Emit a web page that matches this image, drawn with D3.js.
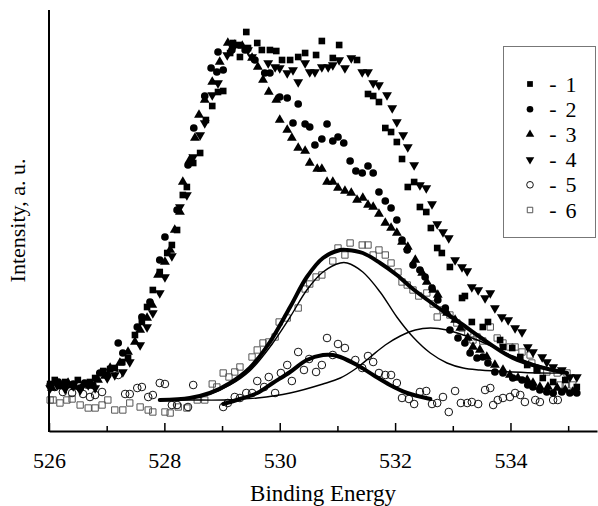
<!DOCTYPE html>
<html>
<head>
<meta charset="utf-8">
<script src="https://cdn.jsdelivr.net/npm/d3@7"></script>
<style>
  html, body { margin: 0; padding: 0; background: #fff; }
  svg { display: block; }
  svg text { font-family: 'Liberation Serif', 'Times New Roman', Times, 'DejaVu Serif', serif !important; fill: #000; }
</style>
</head>
<body>
<div id="chart"></div>
<script>
// Binding energy (eV) / intensity (a.u.) pairs
const series1 = [[526.02,47],[526.10,51],[526.19,45],[526.28,49],[526.40,46],[526.50,51],[526.62,47],[526.71,49],[526.80,53],[526.94,60],[527.06,62],[527.14,63],[527.27,69],[527.37,73],[527.49,96],[527.61,109],[527.70,124],[527.80,141],[527.92,159],[528.05,178],[528.13,186],[528.22,201],[528.32,236],[528.39,244],[528.50,268],[528.62,278],[528.72,311],[528.83,325],[528.93,339],[529.02,340],[529.14,378],[529.19,388],[529.28,386],[529.31,374],[529.42,399],[529.45,383],[529.61,388],[529.69,381],[529.83,381],[529.94,380],[530.04,371],[530.18,371],[530.32,374],[530.44,378],[530.63,376],[530.73,390],[530.92,373],[531.03,386],[531.34,371],[531.53,337],[531.62,335],[531.72,329],[531.83,303],[531.93,299],[532.03,289],[532.12,272],[532.22,244],[532.33,249],[532.43,224],[532.54,219],[532.62,203],[532.73,183],[532.81,178],[532.95,164],[533.16,133],[533.21,135],[533.33,109],[533.52,104],[533.61,109],[533.82,91],[533.87,84],[534.03,83],[534.17,74],[534.29,66],[534.46,61],[534.56,53],[534.74,49],[534.95,51],[535.15,44]];

const series2 = [[526.02,46],[526.16,49],[526.28,45],[526.42,47],[526.54,43],[526.62,48],[526.76,46],[526.88,58],[527.01,56],[527.20,88],[527.28,78],[527.53,104],[527.61,114],[527.75,129],[527.92,171],[528.01,194],[528.22,221],[528.41,266],[528.51,303],[528.70,335],[528.81,363],[528.91,359],[528.93,379],[529.02,361],[529.17,381],[529.40,381],[529.57,371],[529.74,358],[529.83,358],[530.00,334],[530.13,333],[530.23,308],[530.32,327],[530.44,307],[530.52,304],[530.61,286],[530.73,292],[530.82,307],[530.92,290],[531.01,294],[531.11,288],[531.22,270],[531.32,260],[531.43,258],[531.53,265],[531.62,258],[531.72,239],[531.83,230],[531.93,223],[532.03,211],[532.12,191],[532.21,181],[532.31,166],[532.43,161],[532.52,154],[532.64,143],[532.74,131],[532.87,123],[532.95,101],[533.09,93],[533.21,88],[533.30,78],[533.42,73],[533.52,74],[533.61,68],[533.73,59],[533.87,58],[534.04,53],[534.20,51],[534.30,46],[534.39,44],[534.51,41],[534.63,39],[534.74,38],[534.89,39],[535.03,38],[535.15,38]];

const series3 = [[526.05,43],[526.19,47],[526.33,48],[526.45,44],[526.59,46],[526.71,45],[526.85,51],[526.97,55],[527.06,63],[527.23,68],[527.37,79],[527.49,89],[527.58,101],[527.70,113],[527.79,126],[527.89,156],[528.01,169],[528.10,181],[528.18,201],[528.27,219],[528.32,249],[528.44,271],[528.53,293],[528.60,316],[528.70,331],[528.83,349],[528.96,369],[529.10,388],[529.22,386],[529.35,385],[529.52,373],[529.62,364],[529.71,351],[529.81,339],[529.94,331],[530.00,311],[530.13,301],[530.21,293],[530.32,283],[530.44,280],[530.52,268],[530.65,262],[530.73,262],[530.82,249],[530.92,249],[531.01,243],[531.13,240],[531.24,238],[531.34,231],[531.44,233],[531.53,226],[531.62,224],[531.72,217],[531.83,208],[531.93,203],[532.03,198],[532.12,189],[532.22,184],[532.35,171],[532.47,158],[532.55,149],[532.66,141],[532.74,136],[532.90,118],[533.04,111],[533.13,103],[533.26,93],[533.35,84],[533.47,81],[533.59,74],[533.73,66],[533.87,61],[533.99,56],[534.13,53],[534.29,51],[534.39,48],[534.51,44],[534.65,44],[534.81,43],[534.95,41],[535.08,39]];

const series4 = [[526.02,43],[526.14,46],[526.28,42],[526.42,45],[526.54,41],[526.68,46],[526.80,43],[527.01,53],[527.14,56],[527.28,59],[527.40,69],[527.58,86],[527.70,104],[527.80,118],[527.92,138],[528.01,154],[528.13,175],[528.27,224],[528.39,236],[528.50,274],[528.62,296],[528.70,308],[528.83,336],[528.93,348],[529.09,376],[529.19,383],[529.45,381],[529.52,374],[529.80,368],[529.92,364],[530.00,363],[530.13,358],[530.23,361],[530.32,349],[530.44,368],[530.52,359],[530.61,359],[530.73,364],[530.84,364],[530.92,366],[531.03,371],[531.13,363],[531.24,373],[531.43,359],[531.53,359],[531.62,348],[531.72,346],[531.86,336],[531.95,323],[532.03,309],[532.14,296],[532.22,284],[532.33,266],[532.43,246],[532.54,243],[532.64,227],[532.73,207],[532.83,199],[532.93,193],[533.04,171],[533.16,164],[533.25,160],[533.33,144],[533.44,141],[533.56,133],[533.65,138],[533.73,123],[533.85,114],[533.96,111],[534.08,103],[534.20,99],[534.30,84],[534.39,79],[534.55,74],[534.63,69],[534.74,64],[534.89,61],[535.03,54],[535.15,54]];

const series5 = [[526.10,44],[526.24,39],[526.40,38],[526.59,37],[526.71,34],[526.80,36],[526.92,39],[527.20,56],[527.32,37],[527.40,37],[527.53,43],[527.61,44],[527.72,34],[527.80,36],[527.92,48],[528.01,47],[528.13,26],[528.22,26],[528.41,24],[528.50,46],[529.02,24],[529.10,28],[529.22,34],[529.31,33],[529.42,38],[529.52,38],[529.61,50],[529.73,44],[529.81,54],[529.92,38],[530.02,58],[530.13,66],[530.21,50],[530.32,79],[530.42,61],[530.51,72],[530.63,59],[530.73,66],[530.82,93],[530.92,76],[531.01,87],[531.13,83],[531.31,71],[531.43,63],[531.53,75],[531.62,69],[531.72,58],[531.83,56],[531.93,56],[532.03,48],[532.12,33],[532.24,32],[532.33,27],[532.43,39],[532.54,40],[532.64,27],[532.73,28],[532.83,34],[532.93,19],[533.04,40],[533.14,28],[533.25,28],[533.33,29],[533.44,27],[533.56,41],[533.65,43],[533.70,26],[533.78,31],[533.87,33],[533.99,34],[534.08,38],[534.17,36],[534.25,29],[534.43,31],[534.51,29],[534.74,31],[534.82,31]];

const series6 = [[526.02,31],[526.07,31],[526.19,28],[526.31,31],[526.40,32],[526.54,26],[526.68,23],[526.80,23],[526.92,26],[527.02,31],[527.14,21],[527.28,21],[527.40,28],[527.58,24],[527.72,21],[527.80,19],[528.01,19],[528.10,18],[528.24,24],[528.39,23],[528.57,31],[528.70,31],[528.83,47],[528.91,44],[529.02,58],[529.12,54],[529.22,59],[529.31,64],[529.52,74],[529.61,81],[529.71,88],[529.81,89],[529.92,94],[529.99,109],[530.13,113],[530.32,123],[530.44,142],[530.52,147],[530.63,154],[530.73,156],[530.92,170],[531.01,183],[531.13,176],[531.22,188],[531.43,186],[531.53,186],[531.62,176],[531.72,181],[531.83,176],[531.93,168],[532.05,159],[532.12,149],[532.21,146],[532.31,141],[532.41,135],[532.55,138],[532.66,127],[532.73,114],[532.83,121],[532.95,116],[533.07,108],[533.16,103],[533.26,99],[533.35,91],[533.42,94],[533.52,90],[533.65,104],[533.77,93],[533.87,88],[533.99,84],[534.08,84],[534.20,79],[534.34,76],[534.37,68],[534.46,61],[534.63,59],[534.81,58],[534.86,46],[534.95,46],[534.98,58],[535.08,46]];

// fitted curves
const fit6Total = [[527.92,31],[528.44,33],[528.79,38],[529.14,48],[529.48,63],[529.83,89],[530.18,124],[530.47,154],[530.75,173],[531.05,181],[531.17,181],[531.44,178],[531.74,168],[532.03,156],[532.31,142],[532.61,129],[532.90,117],[533.18,106],[533.47,94],[534.04,73],[534.51,64],[534.98,58]];
const fit6PeakA = [[527.92,31],[528.44,33],[528.79,37],[529.14,46],[529.48,60],[529.83,84],[530.18,114],[530.47,141],[530.75,159],[531.05,168],[531.17,168],[531.44,159],[531.74,139],[532.03,114],[532.31,94],[532.61,78],[532.90,68],[533.18,63],[533.47,61],[534.04,59],[534.51,58],[534.98,58]];
const fit6PeakB = [[527.92,31],[528.44,31],[529.02,31],[529.61,33],[530.18,38],[530.75,47],[531.05,53],[531.31,62],[531.57,74],[531.83,86],[532.09,95],[532.35,101],[532.61,103],[532.90,101],[533.18,96],[533.47,90],[534.04,75],[534.51,65],[534.98,58]];
const fit5Total = [[529.02,27],[529.31,32],[529.61,38],[529.88,48],[530.18,59],[530.47,71],[530.75,76],[530.92,76],[531.05,74],[531.34,66],[531.62,56],[531.91,46],[532.21,38],[532.61,32]];

const xMajorTicks = [526, 528, 530, 532, 534];
const xMinorTicks = [527, 529, 531, 533, 535];
const legendLabels = ['1', '2', '3', '4', '5', '6'];

(function () {
  const W = 598, H = 506;
  const margin = { left: 49, right: 1, top: 10, bottom: 75 };
  const FONT = "'Liberation Serif', 'Times New Roman', Times, 'DejaVu Serif', serif";

  const svg = d3.select('#chart').append('svg')
    .attr('width', W)
    .attr('height', H)
    .attr('font-family', FONT);

  const x = d3.scaleLinear().domain([526, 535.5]).range([margin.left, W - margin.right]);
  const y = d3.scaleLinear().domain([0, 421]).range([H - margin.bottom, margin.top]);

  // marker styles per series
  const sym = d3.symbol();
  const styles = [
    { type: d3.symbolSquare, size: 44, fill: '#000', stroke: 'none', rot: 0 },
    { type: d3.symbolCircle, size: 46, fill: '#000', stroke: 'none', rot: 0 },
    { type: d3.symbolTriangle, size: 42, fill: '#000', stroke: 'none', rot: 0 },
    { type: d3.symbolTriangle, size: 42, fill: '#000', stroke: 'none', rot: 180 },
    { type: d3.symbolCircle, size: 46, fill: 'none', stroke: '#111', rot: 0 },
    { type: d3.symbolSquare, size: 40, fill: 'none', stroke: '#555', rot: 0 }
  ];
  const allSeries = [series1, series2, series3, series4, series5, series6];

  // draw open symbols first so the filled ones sit on top
  const order = [5, 4, 0, 1, 2, 3];
  order.forEach(i => {
    const st = styles[i];
    svg.append('g').selectAll('path')
      .data(allSeries[i])
      .join('path')
      .attr('d', sym.type(st.type).size(st.size)())
      .attr('transform', d => `translate(${x(d[0])},${y(d[1])}) rotate(${st.rot})`)
      .attr('fill', st.fill)
      .attr('stroke', st.stroke)
      .attr('stroke-width', 1);
  });

  // fit curves
  const line = d3.line().x(d => x(d[0])).y(d => y(d[1])).curve(d3.curveCatmullRom.alpha(0.5));
  [[fit6PeakA, 1.4], [fit6PeakB, 1.4], [fit6Total, 4], [fit5Total, 4]].forEach(([data, w]) => {
    svg.append('path')
      .datum(data)
      .attr('d', line)
      .attr('fill', 'none')
      .attr('stroke', '#000')
      .attr('stroke-width', w)
      .attr('stroke-linecap', 'round');
  });

  // axes
  const xAxisY = H - margin.bottom;
  const major = d3.axisBottom(x).tickValues(xMajorTicks).tickFormat(d3.format('d'))
    .tickSizeInner(-8).tickSizeOuter(0).tickPadding(21);
  const minor = d3.axisBottom(x).tickValues(xMinorTicks).tickFormat('')
    .tickSizeInner(-5).tickSizeOuter(0);

  const gx = svg.append('g').attr('transform', `translate(0,${xAxisY})`).call(major)
    .attr('font-family', FONT).attr('font-size', 22);
  svg.append('g').attr('transform', `translate(0,${xAxisY})`).call(minor).select('.domain').remove();
  gx.select('.domain').attr('stroke-width', 2);
  svg.selectAll('.tick line').attr('stroke-width', 1.5);

  svg.append('line')
    .attr('x1', margin.left).attr('x2', margin.left)
    .attr('y1', margin.top).attr('y2', xAxisY + 1)
    .attr('stroke', '#000').attr('stroke-width', 2);

  // titles
  svg.append('text')
    .attr('x', (margin.left + W - margin.right) / 2)
    .attr('y', 501)
    .attr('text-anchor', 'middle')
    .attr('font-size', 23)
    .text('Binding Energy');

  svg.append('text')
    .attr('transform', `translate(25,${(margin.top + xAxisY) / 2}) rotate(-90)`)
    .attr('text-anchor', 'middle')
    .attr('font-size', 22)
    .text('Intensity, a. u.');

  // legend
  const lg = svg.append('g');
  lg.append('rect')
    .attr('x', 503.5).attr('y', 46.5)
    .attr('width', 92).attr('height', 191)
    .attr('fill', '#fff').attr('stroke', '#777').attr('stroke-width', 1);

  legendLabels.forEach((lab, i) => {
    const st = styles[i];
    const yy = 84 + i * 25.2;
    lg.append('path')
      .attr('d', sym.type(st.type).size(st.size * 0.75)())
      .attr('transform', `translate(530,${yy}) rotate(${st.rot})`)
      .attr('fill', st.fill)
      .attr('stroke', st.stroke)
      .attr('stroke-width', 1);
    lg.append('text')
      .attr('x', 553).attr('y', yy + 7)
      .attr('text-anchor', 'middle')
      .attr('font-size', 22)
      .text('-');
    lg.append('text')
      .attr('x', 571).attr('y', yy + 7.5)
      .attr('text-anchor', 'middle')
      .attr('font-size', 22)
      .text(lab);
  });
})();
</script>
</body>
</html>
